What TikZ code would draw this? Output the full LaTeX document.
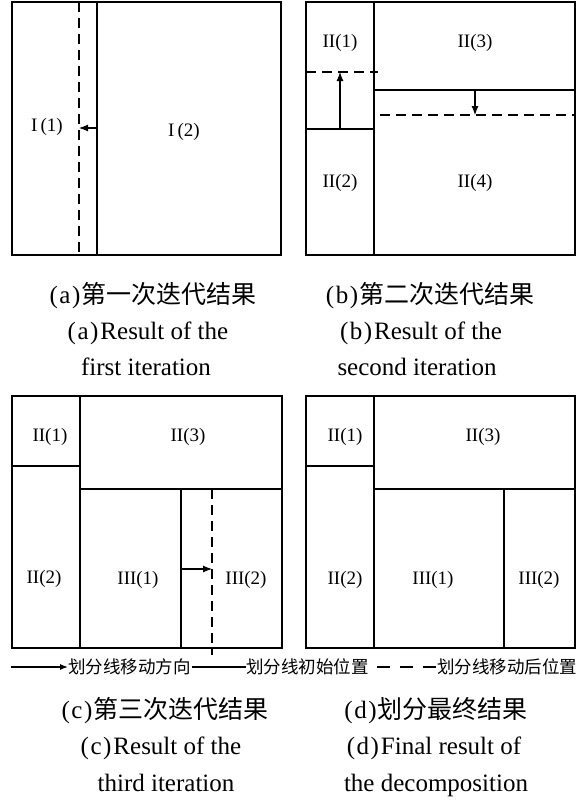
\documentclass[tikz,border=0pt]{standalone}
\usepackage{fontspec}
\setmainfont{Liberation Serif}
\newfontfamily\cjk{Noto Sans CJK SC}
\usetikzlibrary{arrows.meta}
\begin{document}
\begin{tikzpicture}[x=1pt,y=-1pt,
  frame/.style={line width=1.3pt},
  div/.style={line width=1.1pt},
  moved/.style={line width=1.1pt,dash pattern=on 10pt off 6pt},
  mvarrow/.style={line width=1.1pt,-{Latex[length=9pt,width=7pt]}},
  lab/.style={font=\fontsize{19}{19}\selectfont,inner sep=0pt},
  captext/.style={font=\fontsize{25}{25}\selectfont,inner sep=0pt,text height=18pt,text depth=5pt},
  leg/.style={font=\fontsize{17.5}{17.5}\selectfont\cjk,inner sep=0pt,anchor=west}]
\useasboundingbox[fill=white] (0,0) rectangle (587,803);
% ---------- panel (a)
\draw[frame] (12,2) rectangle (281,255);
\coordinate (a1t) at (97,2); \coordinate (a1b) at (97,255);
\coordinate (a2t) at (79,2); \coordinate (a2b) at (79,255);
\draw[div] (a1t) -- (a1b);
\draw[moved] (a2t) -- (a2b);
\coordinate (aas) at (97,128); \coordinate (aae) at (79,128);
\draw[mvarrow] (aas) -- (aae);
\node[lab] (a11) at (47,127) {I\,(1)};
\node[lab] (a12) at (184,132) {I\,(2)};
% ---------- panel (b)
\draw[frame] (306,2) rectangle (575,255);
\draw[div] (374,2) -- (374,255);
\draw[div] (306,129) -- (374,129);
\draw[moved] (306,72) -- (378,72);
\draw[mvarrow] (340,129) -- (340,72);
\draw[div] (374,90) -- (575,90);
\draw[moved] (380,115) -- (575,115);
\draw[mvarrow] (475,90) -- (475,115);
\node[lab] (b1) at (340,43) {II(1)};
\node[lab] (b3) at (475,43) {II(3)};
\node[lab] (b2) at (340,183) {II(2)};
\node[lab] (b4) at (475,183) {II(4)};
% ---------- panel (c)
\draw[frame] (12,396) rectangle (282,648);
\draw[div] (80,396) -- (80,648);
\draw[div] (12,466) -- (80,466);
\draw[div] (80,489) -- (282,489);
\draw[div] (181,489) -- (181,648);
\draw[moved] (212,489) -- (212,655);
\draw[mvarrow] (181,569) -- (212,569);
\node[lab] (c1) at (50,437) {II(1)};
\node[lab] (c3) at (188,437) {II(3)};
\node[lab] (c2) at (44,579) {II(2)};
\node[lab] (c4) at (138,580) {III(1)};
\node[lab] (c5) at (246,580) {III(2)};
% ---------- panel (d)
\draw[frame] (306,396) rectangle (575,648);
\draw[div] (374,396) -- (374,648);
\draw[div] (306,466) -- (374,466);
\draw[div] (374,489) -- (575,489);
\draw[div] (504,489) -- (504,648);
\node[lab] (d1) at (345,437) {II(1)};
\node[lab] (d3) at (483,437) {II(3)};
\node[lab] (d2) at (345,580) {II(2)};
\node[lab] (d4) at (433,580) {III(1)};
\node[lab] (d5) at (539,580) {III(2)};
% ---------- legend
\coordinate (l1s) at (11,667);
\node[leg] (l1) at (68,667) {划分线移动方向};
\draw[div,-{Latex[length=8pt,width=6pt]}] (l1s) -- (l1.west);
\coordinate (l2s) at (192,667);
\node[leg] (l2) at (246,667) {划分线初始位置};
\draw[div] (l2s) -- (l2.west);
\coordinate (l3s) at (377,667);
\node[leg] (l3) at (437,667) {划分线移动后位置};
\draw[line width=1.1pt,dash pattern=on 13pt off 10pt] (l3s) -- (l3.west);
% ---------- captions
\node[captext] (ca1) at (153,297) {(\kern1.5pt a\kern1.5pt)\kern1pt{\cjk 第一次迭代结果}};
\node[captext] (ca2) at (148,333) {(\kern1.5pt a\kern1.5pt)\kern2pt Result of the};
\node[captext] (ca3) at (146,369) {first iteration};
\node[captext] (cb1) at (430,297) {(\kern1.5pt b\kern1.5pt)\kern1pt{\cjk 第二次迭代结果}};
\node[captext] (cb2) at (421,333) {(\kern1.5pt b\kern1.5pt)\kern2pt Result of the};
\node[captext] (cb3) at (417,369) {second iteration};
\node[captext] (cc1) at (165,712) {(\kern1.5pt c\kern1.5pt)\kern1pt{\cjk 第三次迭代结果}};
\node[captext] (cc2) at (161,748) {(\kern1.5pt c\kern1.5pt)\kern2pt Result of the};
\node[captext] (cc3) at (166,785) {third iteration};
\node[captext] (cd1) at (436,712) {(\kern1.5pt d\kern1.5pt)\kern1pt{\cjk 划分最终结果}};
\node[captext] (cd2) at (434,748) {(\kern1.5pt d\kern1.5pt)\kern2pt Final result of};
\node[captext] (cd3) at (436,785) {the decomposition};
\end{tikzpicture}
\end{document}
